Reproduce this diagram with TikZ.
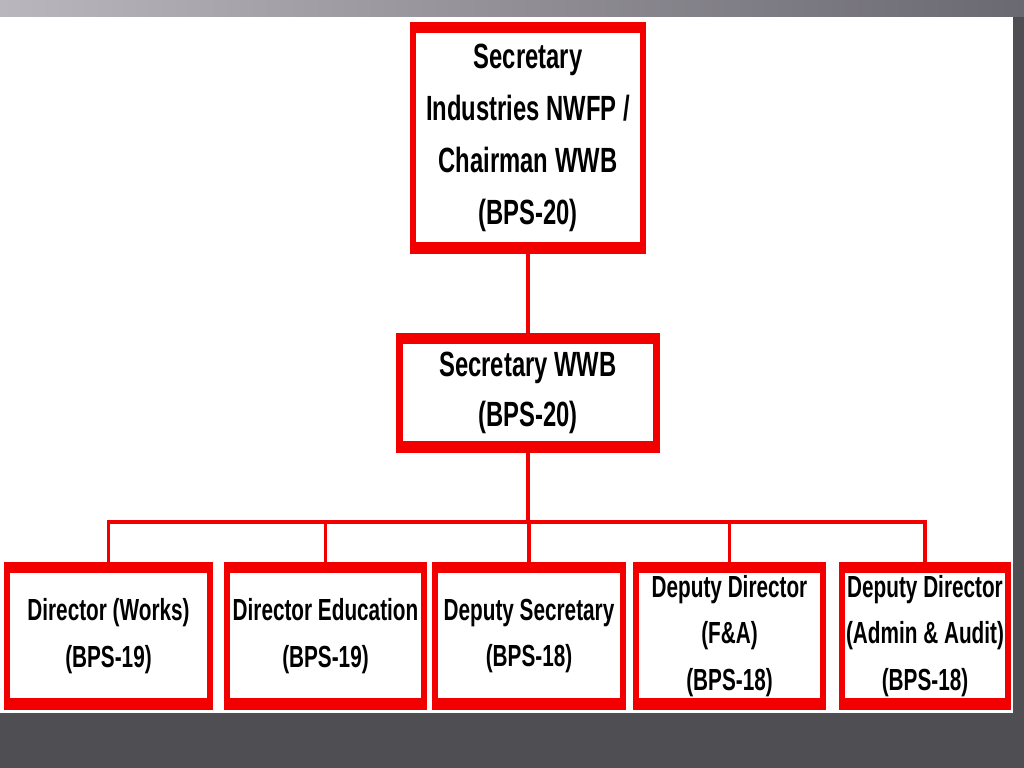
\documentclass[tikz,border=0pt]{standalone}
\usepackage{fontspec}
\setmainfont{Liberation Sans}[FakeStretch=0.68]
\usetikzlibrary{calc}
\definecolor{boxred}{HTML}{F20000}
\definecolor{bgdark}{HTML}{4F4E53}
\definecolor{bglight}{HTML}{B9B6BD}
\definecolor{bgmid}{HTML}{6A6870}

\begin{document}
\begin{tikzpicture}[
  x=0.025cm, y=-0.025cm,
  post/.style={fill=boxred, inner sep=0pt, align=center, minimum height=#1,
    path picture={\fill[white]
      ($(path picture bounding box.south west)+(4.3pt,8.5pt)$) rectangle
      ($(path picture bounding box.north east)+(-4.3pt,-7.6pt)$);}},
  big/.style={post=#1, font=\fontsize{24.9}{37}\selectfont\bfseries},
  small/.style={post=3.7cm, font=\fontsize{21.7}{33}\selectfont\bfseries},
  link/.style={draw=boxred, line width=2.2pt}
]
\useasboundingbox (0,0) rectangle (1024,768);
\fill[bgdark] (0,0) rectangle (1024,768);
\shade[left color=bglight, right color=bgmid] (0,0) rectangle (1024,17);
\fill[white] (0,17) rectangle (1013,713);

\node[big=5.8cm, minimum width=5.9cm] (chair) at (528,138)
  {Secretary\\Industries NWFP /\\Chairman WWB\\(BPS-20)};
\node[big=3.0cm, minimum width=6.575cm, font=\fontsize{24.9}{35.6}\selectfont\bfseries] (sec) at (528,393)
  {Secretary WWB\\(BPS-20)};

\node[small, minimum width=5.225cm] (works) at (108.5,636) {Director (Works)\\(BPS-19)};
\node[small, minimum width=5.075cm] (edu) at (325.5,636) {Director Education\\(BPS-19)};
\node[small, minimum width=4.85cm] (depsec) at (529,636) {Deputy Secretary\\(BPS-18)};
\node[small, minimum width=4.825cm] (fa) at (729.5,636) {Deputy Director\\(F\&A)\\(BPS-18)};
\node[small, minimum width=4.3cm] (audit) at (925,636) {Deputy Director\\(Admin \& Audit)\\(BPS-18)};

\coordinate (bus) at (528,522);
\draw[link] (chair.south) -- (sec.north);
\draw[link] (sec.south) -- (bus);
\draw[link] (bus) -| (works.north);
\draw[link] (bus) -| (edu.north);
\draw[link] (bus) -| (depsec.north);
\draw[link] (bus) -| (fa.north);
\draw[link] (bus) -| (audit.north);
\end{tikzpicture}
\end{document}
